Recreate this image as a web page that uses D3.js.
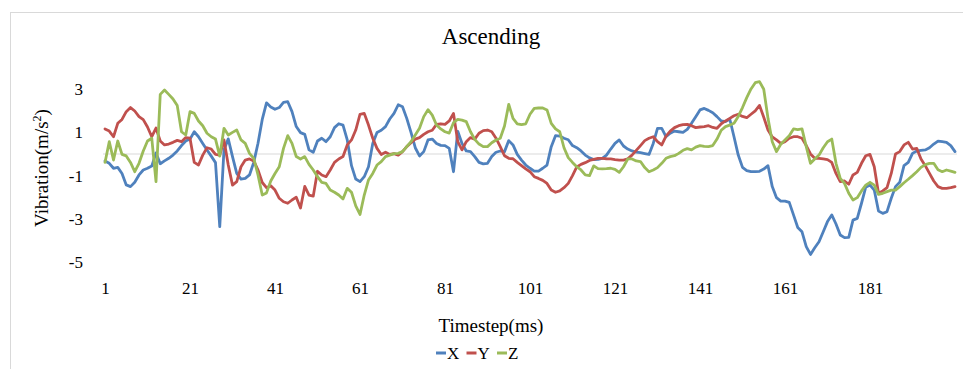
<!DOCTYPE html>
<html>
<head>
<meta charset="utf-8">
<script src="https://cdn.jsdelivr.net/npm/d3@7"></script>
<style>
  body { margin: 0; background: #fff; }
  text { font-family: "Liberation Serif", "DejaVu Serif", serif; fill: #000; }
</style>
</head>
<body>
<div id="chart"></div>
<script>
// timesteps 1..201
const timesteps = d3.range(1, 202);
const tickLabels = [1, 21, 41, 61, 81, 101, 121, 141, 161, 181];
const yTicks = [3, 1, -1, -3, -5];

const seriesX = [
  -0.32, -0.43, -0.66, -0.62, -0.9, -1.43, -1.51, -1.31, -0.97, -0.74,
  -0.66, -0.56, 0.05, -0.45, -0.32, -0.2, -0.05, 0.14, 0.39, 0.6,
  0.69, 1.03, 0.8, 0.49, 0.19, -0.1, -0.4, -3.36, 0.2, 0.7,
  -0.12, -0.9, -1.16, -1.13, -0.97, -0.39, 0.5, 1.6, 2.37, 2.18,
  2.07, 2.15, 2.39, 2.42, 1.96, 1.27, 0.99, 0.91, 0.19, 0.08,
  0.6, 0.73, 0.57, 0.8, 1.22, 1.4, 1.34, 0.65, -0.54, -1.16,
  -1.28, -1.05, -0.59, 0.49, 1.0, 1.1, 1.27, 1.62, 1.88, 2.28,
  2.19, 1.65, 1.0, 0.29, -0.09, 0.11, 0.65, 0.69, 0.49, 0.4,
  0.39, 0.26, -0.82, 1.05, 0.49, 0.14, 0.11, -0.12, -0.39, -0.46,
  -0.43, -0.12, 0.08, 0.14, 0.11, 0.62, 0.42, -0.02, -0.28, -0.51,
  -0.66, -0.79, -0.79, -0.66, -0.51, 0.34, 0.85, 0.83, 0.73, 0.66,
  0.39, 0.29, 0.14, -0.05, -0.18, -0.26, -0.25, -0.2, -0.05, 0.23,
  0.49, 0.65, 0.37, 0.23, 0.14, 0.09, 0.06, 0.02, -0.02, 0.49,
  1.19, 1.19, 0.8, 0.96, 1.06, 1.03, 1.0, 1.14, 1.42, 1.73,
  2.04, 2.11, 2.02, 1.91, 1.73, 1.53, 1.5, 1.62, 0.8, -0.05,
  -0.62, -0.77, -0.82, -0.82, -0.8, -0.7, -0.54, -1.51, -2.02, -2.18,
  -2.18, -2.24, -2.82, -3.4, -3.6, -4.29, -4.65, -4.34, -4.06, -3.6,
  -3.13, -2.82, -3.24, -3.75, -3.87, -3.86, -3.06, -2.98, -2.28, -1.54,
  -1.44, -1.67, -2.64, -2.75, -2.67, -2.05, -1.51, -1.31, -0.54, -0.39,
  0.03, 0.14, 0.17, 0.19, 0.29, 0.46, 0.6, 0.57, 0.54, 0.39,
  0.11
];

const seriesY = [
  1.16, 1.06, 0.8, 1.42, 1.6, 1.96, 2.15, 1.99, 1.73, 1.59,
  1.25, 0.8, 1.2, 0.6, 0.42, 0.46, 0.54, 0.63, 0.57, 0.76,
  0.73, -0.39, -0.51, -0.05, 0.29, 0.23, -0.02, -0.05, 0.65, -0.51,
  -1.44, -1.28, -0.59, -0.28, -0.23, -0.32, -0.74, -1.32, -1.56, -1.47,
  -1.67, -2.05, -2.21, -2.28, -2.13, -2.0, -2.5, -1.5, -1.9, -1.95,
  -0.8, -0.97, -1.05, -0.74, -0.39, -0.23, -0.12, 0.42, 0.65, 1.11,
  1.84, 1.88, 1.34, 0.73, 0.26, -0.02, 0.08, -0.02, 0.02, -0.05,
  0.11, 0.34, 0.52, 0.69, 0.76, 0.91, 1.03, 1.1, 1.37, 1.4,
  1.37, 1.53, 1.88, 0.57, 0.19, 0.57, 0.76, 0.69, 0.96, 1.08,
  1.11, 1.03, 0.73, 0.34, -0.08, -0.2, -0.22, -0.39, -0.54, -0.69,
  -0.82, -1.05, -1.13, -1.22, -1.36, -1.67, -1.77, -1.71, -1.56, -1.36,
  -1.0, -0.6, -0.48, -0.4, -0.3, -0.25, -0.2, -0.2, -0.22, -0.23,
  -0.26, -0.28, -0.28, -0.22, -0.05, 0.17, 0.39, 0.62, 0.73, 0.8,
  0.57, 0.42, 0.83, 1.06, 1.22, 1.31, 1.36, 1.37, 1.31, 1.22,
  1.25, 1.27, 1.31, 1.23, 1.19, 1.4, 1.53, 1.65, 1.77, 1.84,
  1.74, 1.68, 1.84, 2.0, 2.25, 1.7, 1.11, 0.79, 0.65, 0.49,
  0.57, 0.73, 0.8, 0.8, 0.73, 0.39, 0.0, -0.2, -0.2, -0.23,
  -0.26, -0.39, -0.9, -1.28, -1.25, -1.4, -0.97, -0.85, -0.43, -0.08,
  -0.02, -0.59, -1.82, -1.71, -1.56, -0.9, 0.0, 0.11, 0.42, 0.54,
  0.23, 0.26, -0.23, -0.54, -0.9, -1.25, -1.51, -1.59, -1.59, -1.56,
  -1.51
];

const seriesZ = [
  -0.39, 0.57, -0.28, 0.6, -0.02, -0.09, -0.39, -0.82, -0.43, 0.14,
  0.6, 0.73, -1.28, 2.76, 2.96, 2.76, 2.55, 2.24, 1.03, 0.88,
  1.96, 1.88, 1.53, 1.31, 0.96, 0.8, 0.69, -0.1, 1.19, 0.88,
  1.0, 1.11, 0.65, 0.49, 0.03, -0.2, -0.97, -1.9, -1.8, -1.25,
  -0.9, -0.59, 0.26, 0.85, 0.49, -0.12, -0.23, -0.12, -0.48, -0.74,
  -1.05, -1.31, -1.36, -1.67, -1.77, -1.9, -2.08, -1.59, -1.77, -2.4,
  -2.8, -1.9, -1.2, -0.9, -0.51, -0.35, -0.12, -0.05, 0.02, 0.03,
  0.11, 0.34, 0.57, 0.88, 1.19, 1.73, 2.05, 1.8, 1.34, 1.16,
  1.03, 0.97, 1.45, 1.6, 1.57, 1.5, 1.03, 0.68, 0.46, 0.34,
  0.34, 0.52, 0.65, 0.73, 1.3, 2.3, 1.65, 1.4, 1.36, 1.4,
  1.84, 2.11, 2.13, 2.13, 2.04, 1.42, 1.16, 1.03, 0.29, -0.17,
  -0.39, -0.59, -0.74, -0.97, -1.0, -0.55, -0.68, -0.69, -0.68, -0.66,
  -0.71, -0.85, -0.59, -0.23, -0.23, -0.32, -0.35, -0.63, -0.82, -0.74,
  -0.63, -0.43, -0.2, -0.12, -0.08, 0.03, 0.17, 0.25, 0.19, 0.32,
  0.39, 0.35, 0.34, 0.39, 0.69, 1.1, 1.27, 1.34, 1.42, 1.74,
  2.15, 2.61, 3.01, 3.3, 3.35, 3.0, 1.65, 0.57, 0.11, 0.45,
  0.65, 0.85, 1.16, 1.13, 1.16, 0.34, -0.43, -0.23, -0.05, 0.29,
  0.57, 0.69, -0.43, -1.13, -1.36, -1.82, -2.13, -2.02, -1.71, -1.44,
  -1.31, -1.44, -1.87, -1.82, -1.74, -1.67, -1.67, -1.51, -1.33, -1.17,
  -1.0, -0.82, -0.62, -0.49, -0.43, -0.43, -0.73, -0.82, -0.74, -0.79,
  -0.85
];

const series = [
  { name: 'X', values: seriesX, color: '#4F81BD' },
  { name: 'Y', values: seriesY, color: '#C0504D' },
  { name: 'Z', values: seriesZ, color: '#9BBB59' }
];

const width = 963;
const height = 369;

const svg = d3.select('#chart')
  .append('svg')
  .attr('width', width)
  .attr('height', height);

// chart border
svg.append('rect')
  .attr('x', 10.5)
  .attr('y', 12.5)
  .attr('width', 1000)
  .attr('height', 400)
  .attr('fill', 'none')
  .attr('stroke', '#d9d9d9');

const x = d3.scalePoint()
  .domain(timesteps)
  .range([105, 955]);

const y = d3.scaleLinear()
  .domain([-5, 4])
  .range([262, 67.6]);

// horizontal axis line at zero
svg.append('line')
  .attr('x1', 103)
  .attr('x2', 957)
  .attr('y1', y(0))
  .attr('y2', y(0))
  .attr('stroke', '#d9d9d9')
  .attr('stroke-width', 1);

// y axis labels (plain hyphen minus like the original)
const yAxis = d3.axisLeft(y)
  .tickValues(yTicks)
  .tickFormat(d => String(d))
  .tickSize(0)
  .tickPadding(0);
svg.append('g')
  .attr('transform', 'translate(83,0)')
  .call(yAxis)
  .call(g => g.select('.domain').remove())
  .selectAll('text')
  .style('font-size', '17px')
  .style('font-family', '"Liberation Serif", serif')
  .attr('fill', '#000');

// x axis labels
const xAxis = d3.axisBottom(x).tickValues(tickLabels).tickSize(0).tickPadding(0);
svg.append('g')
  .attr('transform', 'translate(0,282)')
  .call(xAxis)
  .call(g => g.select('.domain').remove())
  .selectAll('text')
  .style('font-size', '17px')
  .style('font-family', '"Liberation Serif", serif')
  .attr('fill', '#000');

// lines
const line = d3.line()
  .x((d, i) => x(timesteps[i]))
  .y(d => y(d));

series.forEach(s => {
  svg.append('path')
    .datum(s.values)
    .attr('fill', 'none')
    .attr('stroke', s.color)
    .attr('stroke-width', 2.8)
    .attr('stroke-linejoin', 'round')
    .attr('stroke-linecap', 'round')
    .attr('d', line);
});

// titles
svg.append('text')
  .attr('x', 491)
  .attr('y', 44)
  .attr('text-anchor', 'middle')
  .style('font-size', '23px')
  .text('Ascending');

svg.append('text')
  .attr('x', 491)
  .attr('y', 332)
  .attr('text-anchor', 'middle')
  .style('font-size', '19px')
  .text('Timestep(ms)');

const yTitle = svg.append('text')
  .attr('transform', 'translate(48,168) rotate(-90)')
  .attr('text-anchor', 'middle')
  .style('font-size', '19px');
yTitle.append('tspan').text('Vibration(m/s');
yTitle.append('tspan').attr('dy', -7).style('font-size', '12px').text('2');
yTitle.append('tspan').attr('dy', 7).text(')');

// legend
const legend = svg.append('g').attr('transform', 'translate(436,353)');
const legendX = d3.scalePoint().domain(series.map(s => s.name)).range([0, 61]);
series.forEach(s => {
  const g = legend.append('g').attr('transform', 'translate(' + legendX(s.name) + ',0)');
  g.append('line')
    .attr('x1', 0).attr('x2', 10)
    .attr('y1', 0).attr('y2', 0)
    .attr('stroke', s.color)
    .attr('stroke-width', 3);
  g.append('text')
    .attr('x', 11)
    .attr('y', 6)
    .style('font-size', '17px')
    .text(s.name);
});
</script>
</body>
</html>
